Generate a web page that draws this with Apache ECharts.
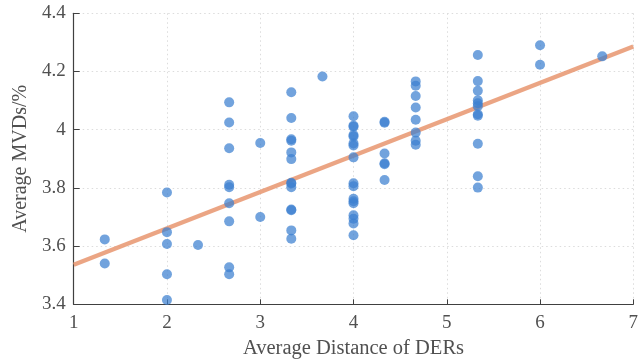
<!DOCTYPE html>
<html><head><meta charset="utf-8">
<script src="https://cdn.jsdelivr.net/npm/echarts@6/dist/echarts.min.js"></script>
<style>html,body{margin:0;padding:0;background:#fff}#c{width:644px;height:360px}</style>
</head><body><div id="c"></div>
<script>
var xValues = [1.333,1.333,
 2,2,2,2,2,
 2.333,
 2.667,2.667,2.667,2.667,2.667,2.667,2.667,2.667,2.667,
 3,3,
 3.333,3.333,3.333,3.333,3.333,3.333,3.333,3.333,3.333,3.333,3.333,3.333,3.333,
 3.667,
 4,4,4,4,4,4,4,4,4,4,4,4,4,4,4,4,4,
 4.333,4.333,4.333,4.333,4.333,4.333,
 4.667,4.667,4.667,4.667,4.667,4.667,4.667,4.667,
 5.333,5.333,5.333,5.333,5.333,5.333,5.333,5.333,5.333,5.333,5.333,
 6,6,
 6.667];
var yValues = [3.623,3.540,
 3.784,3.648,3.607,3.503,3.415,
 3.604,
 4.094,4.025,3.936,3.811,3.802,3.747,3.685,3.527,3.503,
 3.954,3.700,
 4.129,4.040,3.967,3.962,3.922,3.899,3.818,3.802,3.726,3.723,3.654,3.625,3.815,
 4.183,
 4.046,4.014,4.010,3.982,3.977,3.953,3.946,3.905,3.816,3.806,3.763,3.754,3.747,3.706,3.694,3.678,3.637,
 4.027,4.024,3.918,3.885,3.881,3.827,
 4.166,4.151,4.116,4.076,4.034,3.990,3.962,3.948,
 4.257,4.167,4.134,4.101,4.091,4.081,4.053,4.048,3.952,3.840,3.801,
 4.290,4.223,
 4.252];
var fitX = [1, 7];
var fitY = [3.536, 4.286];
var xTicks = [1,2,3,4,5,6,7];

var pts = xValues.map(function(x,i){return [x, yValues[i]];});
var fit = fitX.map(function(x,i){return [x, fitY[i]];});
var font = 'Liberation Serif, Times New Roman, serif';
var chart = echarts.init(document.getElementById('c'), null, {renderer:'canvas'});
chart.setOption({
  animation:false,
  backgroundColor:'#fff',
  grid:{left:73.7, right:10.7, top:13.3, bottom:55.7, containLabel:false, outerBoundsMode:'none'},
  xAxis:{type:'value', min:1, max:7, interval:1,
    name:'Average Distance of DERs', nameLocation:'middle', nameGap:34,
    nameTextStyle:{fontFamily:font, fontSize:20.5, color:'#505050'},
    axisLine:{show:true, onZero:false, lineStyle:{color:'#404040', width:1.2}},
    axisTick:{show:true, inside:true, length:5, lineStyle:{color:'#404040'}},
    axisLabel:{fontFamily:font, fontSize:19, color:'#505050', margin:9},
    splitLine:{show:true, lineStyle:{color:'#dcdcdc', type:[1.5,3], width:1}}
  },
  yAxis:{type:'value', min:3.4, max:4.4, interval:0.2,
    name:'Average MVDs/%', nameLocation:'middle', nameGap:39,
    nameTextStyle:{fontFamily:font, fontSize:20, color:'#505050'},
    axisLine:{show:true, onZero:false, lineStyle:{color:'#404040', width:1.2}},
    axisTick:{show:true, inside:true, length:6, lineStyle:{color:'#404040'}},
    axisLabel:{fontFamily:font, fontSize:19, color:'#505050', margin:8,
      formatter:function(v){return (Math.round(v*10)/10).toString();}},
    splitLine:{show:true, lineStyle:{color:'#dcdcdc', type:[1.5,3], width:1}}
  },
  series:[
    {type:'line', data:fit, symbol:'none', z:2,
     lineStyle:{color:'#e8956f', width:4.5, opacity:0.85}},
    {type:'scatter', data:pts, symbolSize:10, z:3,
     itemStyle:{color:'#3c7fd0', opacity:0.72}}
  ]
});
</script></body></html>
